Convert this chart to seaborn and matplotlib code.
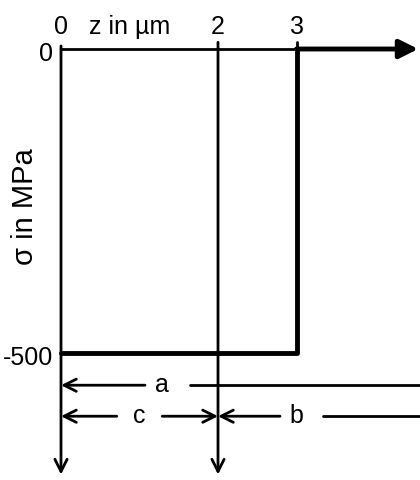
import matplotlib
matplotlib.use("Agg")
import matplotlib.pyplot as plt
import seaborn as sns
import pandas as pd

# stress profile (z in um, sigma in MPa)
z_prof = [0, 3, 3, 4.55]
s_prof = [-500, -500, 0, 0]

x_ticks = [0, 2, 3]
x_ticklabels = ["0", "2", "3"]
y_ticks = [0, -500]
y_ticklabels = ["0", "-500"]

# dimension lines: name, start z, end z, level
dim_a = ("a", 0, 4.6, -553)
dim_c = ("c", 0, 2, -604)
dim_b = ("b", 2, 4.6, -604)

sns.set_theme(style="white")
plt.rcParams["font.family"] = ["Liberation Sans", "DejaVu Sans"]
plt.rcParams["text.color"] = "black"

fig = plt.figure(figsize=(4.2, 4.8), dpi=100)
ax = fig.add_axes([0, 0, 1, 1])
ax.set_xlim(-0.777, 4.573)
ax.set_ylim(-708.9, 80.6)
ax.axis("off")

df = pd.DataFrame({"z": z_prof[:3], "sigma": s_prof[:3]})
sns.lineplot(data=df, x="z", y="sigma", sort=False, estimator=None,
             color="black", lw=3.5, ax=ax)

open_arr = dict(arrowstyle="->", color="black", lw=2, mutation_scale=22,
                shrinkA=0, shrinkB=0)

# z axis (top)
ax.plot([0, 3], [0, 0], color="black", lw=2)
ax.annotate("", xy=(z_prof[-1], s_prof[-1]), xytext=(z_prof[-2], s_prof[-2]),
            arrowprops=dict(arrowstyle="-|>", color="black", lw=3.5,
                            mutation_scale=28, shrinkA=0, shrinkB=0))
# vertical lines with arrows downward
ax.annotate("", xy=(0, -700), xytext=(0, 5), arrowprops=open_arr)
ax.annotate("", xy=(2, -700), xytext=(2, 11), arrowprops=open_arr)
ax.plot([3, 3], [11, 0], color="black", lw=2)

# tick labels
for xt, lab in zip(x_ticks, x_ticklabels):
    ax.text(xt, 16, lab, ha="center", va="bottom", fontsize=18)
ax.text(0.88, 16, "z in µm", ha="center", va="bottom", fontsize=18)
for yt, lab in zip(y_ticks, y_ticklabels):
    ax.text(-0.1, yt - 8, lab, ha="right", va="center", fontsize=18)
ax.text(-0.46, -260, "σ in MPa", rotation=90, ha="center", va="center",
        fontsize=21)

# dimension lines
name, z0, z1, lev = dim_a
ax.annotate("", xy=(z0, lev), xytext=(z0 + 1.07, lev), arrowprops=open_arr)
ax.text(1.29, lev, name, ha="center", va="center", fontsize=18)
ax.plot([1.64, z1], [lev, lev], color="black", lw=2)

name, z0, z1, lev = dim_c
ax.annotate("", xy=(z0, lev), xytext=(0.71, lev), arrowprops=open_arr)
ax.text(1.0, lev, name, ha="center", va="center", fontsize=18)
ax.annotate("", xy=(z1, lev), xytext=(1.29, lev), arrowprops=open_arr)

name, z0, z1, lev = dim_b
ax.annotate("", xy=(z0, lev), xytext=(2.79, lev), arrowprops=open_arr)
ax.text(3.0, lev, name, ha="center", va="center", fontsize=18)
ax.plot([3.34, z1], [lev, lev], color="black", lw=2)

fig.savefig("out.png", dpi=100)
